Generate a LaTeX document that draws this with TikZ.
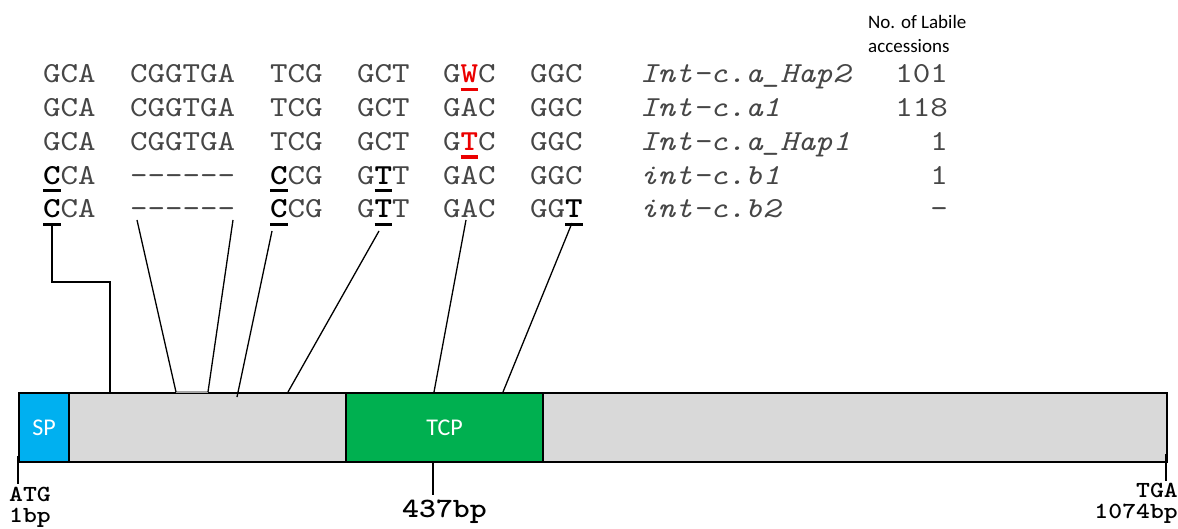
\documentclass[tikz,border=0pt]{standalone}
\usepackage{fontspec}
\newfontfamily\seqfont{lmmono10-regular.otf}[FakeStretch=1.15, BoldFont=lmmonolt10-bold.otf, ItalicFont=lmmono10-italic.otf]
\newfontfamily\sansf{Carlito}
\definecolor{spblue}{RGB}{0,176,240}
\definecolor{tcpgreen}{RGB}{0,176,80}
\definecolor{bargrey}{RGB}{217,217,217}
\definecolor{seqgrey}{RGB}{70,70,70}
\definecolor{snpred}{RGB}{235,0,0}
\definecolor{delgrey}{RGB}{165,165,165}
\newcommand\ulb[2][black]{{\bfseries\color{#1}\makebox[0pt][l]{\rule[-0.28em]{0.6em}{0.12em}}#2}}
\newcommand\seqrow[9]{%
  \pgfmathsetmacro\yb{83+33.75*(#1-1)}%
  \node[seq] (r#1c1) at (43,\yb) {#2};
  \node[seq] (r#1c2) at (130,\yb) {#3};
  \node[seq] (r#1c3) at (270,\yb) {#4};
  \node[seq] (r#1c4) at (357,\yb) {#5};
  \node[seq] (r#1c5) at (443,\yb) {#6};
  \node[seq] (r#1c6) at (530,\yb) {#7};
  \node[seq, font=\seqfont\itshape\fontsize{29}{30}\selectfont] (r#1n) at (640,\yb) {#8};
  \node[seq, anchor=base east] (r#1k) at (948,\yb) {#9};
}
\begin{document}
\begin{tikzpicture}[x=1pt,y=-1pt,
  seq/.style={anchor=base west, inner sep=0pt, font=\seqfont\fontsize{29}{30}\selectfont, text=seqgrey},
  box/.style={draw=black, line width=2.2pt, inner sep=0pt, minimum height=69pt, anchor=north west, text=white, font=\sansf\fontsize{24}{26}\selectfont},
  conn/.style={draw=black, line width=1.3pt},
  tickline/.style={draw=black, line width=2.8pt},
  poslabel/.style={inner sep=0pt, font=\seqfont\bfseries\fontsize{23}{24}\selectfont, text=black}]
\useasboundingbox (0,0) rectangle (1178,529);

% header
\node[anchor=west, align=left, inner sep=0pt, font=\sansf\fontsize{19}{24}\selectfont] (hdr) at (868,34) {No. of Labile\\accessions};

% sequence rows
\seqrow{1}{GCA}{CGGTGA}{TCG}{GCT}{G\ulb[snpred]{W}C}{GGC}{Int-c.a\_Hap2}{101}
\seqrow{2}{GCA}{CGGTGA}{TCG}{GCT}{GAC}{GGC}{Int-c.a1}{118}
\seqrow{3}{GCA}{CGGTGA}{TCG}{GCT}{G\ulb[snpred]{T}C}{GGC}{Int-c.a\_Hap1}{1}
\seqrow{4}{\ulb{C}CA}{-{}-{}-{}-{}-{}-}{\ulb{C}CG}{G\ulb{T}T}{GAC}{GGC}{int-c.b1}{1}
\seqrow{5}{\ulb{C}CA}{-{}-{}-{}-{}-{}-}{\ulb{C}CG}{G\ulb{T}T}{GAC}{GG\ulb{T}}{int-c.b2}{-}

% gene bar
\node[box, fill=bargrey, minimum width=1148pt] (bar) at (18,392) {};
\node[box, fill=spblue, minimum width=50pt] (sp) at (18,392) {SP};
\node[box, fill=tcpgreen, minimum width=197pt] (tcp) at (345,392) {TCP};

% connector end points
\coordinate (t1) at (52,225);
\coordinate (k1) at (110,282);
\coordinate (b1) at (110,392);
\coordinate (t2) at (137,220);
\coordinate (b2) at (176,392);
\coordinate (t3) at (233,220);
\coordinate (b3) at (208,392);
\coordinate (t4) at (272,231);
\coordinate (b4) at (237,397);
\coordinate (t5) at (379,231);
\coordinate (b5) at (288,392);
\coordinate (t6) at (466,220);
\coordinate (b6) at (434,392);
\coordinate (t7) at (572,223);
\coordinate (b7) at (503,392);

% deleted region on bar
\draw[delgrey, line width=2.6pt] (b2) -- (b3);

% connectors
\draw[conn] (t1) |- (k1) -- (b1);
\draw[conn] (t2) -- (b2);
\draw[conn] (t3) -- (b3);
\draw[conn] (t4) -- (b4);
\draw[conn] (t5) -- (b5);
\draw[conn] (t6) -- (b6);
\draw[conn] (t7) -- (b7);

% ticks
\coordinate (tk1) at (18,484);
\coordinate (tk2) at (433,495);
\coordinate (tk3) at (1166,481);
\draw[tickline] (18,456) -- (tk1);
\draw[tickline] (tk2 |- bar.south) -- (tk2);
\draw[tickline] (1166,454) -- (tk3);

% position labels
\node[poslabel, anchor=base west] (atg) at (9,501) {ATG};
\node[poslabel, anchor=base west] (p1) at (9,522) {1bp};
\node[poslabel, anchor=base west, font=\seqfont\bfseries\fontsize{28}{30}\selectfont] (p437) at (402,517) {437bp};
\node[poslabel, anchor=base east] (tga) at (1178,497) {TGA};
\node[poslabel, anchor=base east] (p1074) at (1178,518) {1074bp};
\end{tikzpicture}
\end{document}
